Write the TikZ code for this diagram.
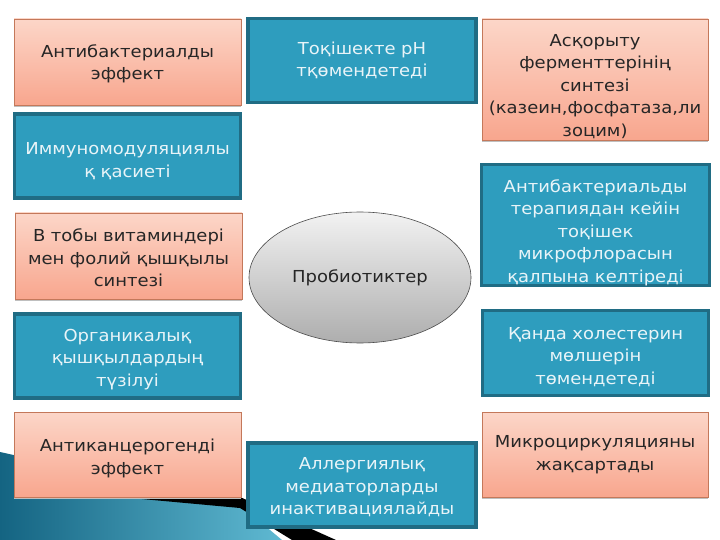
\documentclass[tikz,border=0pt]{standalone}
\usepackage{fontspec}
\setmainfont{DejaVu Sans}[FakeStretch=1.09]
\usetikzlibrary{shapes.geometric,shadows}
\definecolor{salTop}{RGB}{252,214,200}
\definecolor{salBot}{RGB}{248,166,142}
\definecolor{salEdge}{RGB}{196,120,90}
\definecolor{bluFill}{RGB}{46,157,190}
\definecolor{bluEdge}{RGB}{32,108,132}
\definecolor{bluText}{RGB}{232,244,248}
\definecolor{tealA}{RGB}{20,100,130}
\definecolor{tealB}{RGB}{95,185,210}
\tikzset{
  txt/.style={font=\fontsize{16.5}{22.5}\selectfont, align=center, inner sep=0pt},
  salbox/.style={txt, rectangle, draw=salEdge, line width=0.8pt, top color=salTop, bottom color=salBot,
     text=black!85, minimum width=227pt, text width=224pt,
     drop shadow={shadow xshift=0pt, shadow yshift=-2pt, fill=black!25, opacity=1}},
  blubox/.style={txt, rectangle, draw=bluEdge, line width=3.5pt, fill=bluFill, text=bluText,
     minimum width=226pt, text width=224pt},
  lower/.style={execute at begin node={\rule{0pt}{#1}}},
  ell/.style={ellipse, draw=black!70, line width=0.6pt, top color=black!5, bottom color=black!32,
     minimum width=222pt, minimum height=131pt, inner sep=0pt, font=\fontsize{16.5}{20}\selectfont, text=black!85}
}
\begin{document}
\begin{tikzpicture}[x=1pt,y=-1pt]
\useasboundingbox (0,0) rectangle (720,540);
\fill[white] (0,0) rectangle (720,540);
% bottom-left decoration
\shade[left color=tealA, right color=tealB] (0,452) -- (240,505) -- (282,540) -- (0,540) -- cycle;
\fill[black] (120,494) -- (240,497) -- (336,540) -- (292,540) -- (240,508) -- (120,497) -- cycle;
% left column
\node[salbox, minimum height=86pt, lower=16.5pt] (l1) at (127.5,62) {Антибактериалды\\эффект};
\node[blubox, minimum height=84pt, lower=22.5pt] (l2) at (127.5,156) {Иммуномодуляциялы\\қ қасиеті};
\node[salbox, minimum height=86pt, lower=16.5pt] (l3) at (128.5,256) {В тобы витаминдері\\мен фолий қышқылы\\синтезі};
\node[blubox, minimum height=84pt, lower=18.5pt] (l4) at (127.5,356) {Органикалық\\қышқылдардың\\түзілуі};
\node[salbox, minimum height=85pt, lower=20.5pt] (l5) at (127.5,454.5) {Антиканцерогенді\\эффект};
% middle column
\node[blubox, minimum height=84pt, minimum width=228pt] (m1) at (362,60.5) {Тоқішекте рН\\тқөмендетеді};
\node[ell] (c) at (360,277.5) {Пробиотиктер};
\node[blubox, minimum height=84pt, minimum width=228pt, lower=16.5pt] (m2) at (362,485) {Аллергиялық\\медиаторларды\\инактивациялайды};
% right column
\node[salbox, minimum height=121pt, minimum width=226pt, lower=25.5pt] (r1) at (595,79.5) {Асқорыту\\ферменттерінің\\синтезі\\(казеин,фосфатаза,ли\\зоцим)};
\node[blubox, minimum height=121pt, minimum width=228pt, lower=27.5pt] (r2) at (595.5,225) {Антибактериальды\\терапиядан кейін\\тоқішек\\микрофлорасын\\қалпына келтіреді};
\node[blubox, minimum height=85pt, minimum width=226pt, lower=19.5pt] (r3) at (595.5,353) {Қанда холестерин\\мөлшерін\\төмендетеді};
\node[salbox, minimum height=85pt, minimum width=226pt] (r4) at (595,454.5) {Микроциркуляцияны\\жақсартады};
\end{tikzpicture}
\end{document}
